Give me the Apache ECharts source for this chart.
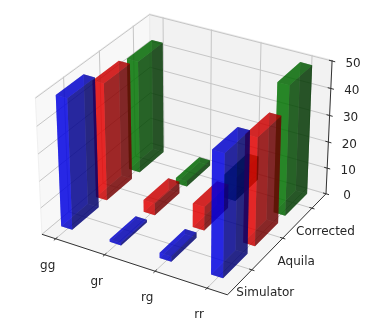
<!DOCTYPE html>
<html><head><meta charset="utf-8">
<style>html,body{margin:0;padding:0;background:#fff}#c{width:382px;height:336px}</style>
<script src="https://cdn.jsdelivr.net/npm/echarts@6/dist/echarts.min.js"></script>
</head><body><div id="c"></div>
<script>
const categories = ['gg','gr','rg','rr'];
const methods = ['Simulator','Aquila','Corrected'];
const zTicks = [0,10,20,30,40,50];
const simulator = [48.5,1,2,45];
const aquila = [44,4.5,9,40];
const corrected = [42.5,2,9,48.5];
const seriesColors = [[0,0,255],[255,0,0],[0,128,0]];

const W=382,H=336, S=1785, X0=186.6, Y0=147.5;
const xlim=[-0.285,3.385], ylim=[-0.75,2.5], zlim=[0,50.3];
const BOX=[1.19,1.19,0.875], DIST=10, ALPHA=0.6, BW=0.23, BD=0.76, BARSHIFT=-0.025, BARSHIFTY=-0.03;
const U=[0.866025,0.5,0], V=[-0.25,0.433013,0.866025], N=[0.433013,-0.75,0.5];
const dot=(a,b)=>a[0]*b[0]+a[1]*b[1]+a[2]*b[2];
const world=(x,y,z)=>[((x-xlim[0])/(xlim[1]-xlim[0])-0.5)*BOX[0],((y-ylim[0])/(ylim[1]-ylim[0])-0.5)*BOX[1],((z-zlim[0])/(zlim[1]-zlim[0])-0.5)*BOX[2]];
const proj=p=>{const w=world(p[0],p[1],p[2]),d=DIST-dot(w,N);return [dot(w,U)/d,dot(w,V)/d];};
const depth=p=>dot(world(p[0],p[1],p[2]),N);

function barFaces(xi,yi,h){
  const a=xi+BARSHIFT-BW/2,b=xi+BARSHIFT+BW/2,c=yi+BARSHIFTY-BD/2,e=yi+BARSHIFTY+BD/2;
  const F=[
    [[[a,c,0],[b,c,0],[b,e,0],[a,e,0]],[0,0,-1]],
    [[[a,c,h],[b,c,h],[b,e,h],[a,e,h]],[0,0,1]],
    [[[a,c,0],[b,c,0],[b,c,h],[a,c,h]],[0,-1,0]],
    [[[a,e,0],[b,e,0],[b,e,h],[a,e,h]],[0,1,0]],
    [[[a,c,0],[a,e,0],[a,e,h],[a,c,h]],[-1,0,0]],
    [[[b,c,0],[b,e,0],[b,e,h],[b,c,h]],[1,0,0]]];
  return F;
}
const LIGHT=[-0.6667,-0.6667,0.3333];
const shade=n=>0.3+0.7*((dot(n,LIGHT)+1)/2);
function facesFor(values,yi,rgb){
  const out=[];
  values.forEach((h,xi)=>barFaces(xi,yi,h).forEach(f=>{
    const s=shade(f[1]);
    const col=`rgba(${Math.round(rgb[0]*s)},${Math.round(rgb[1]*s)},${Math.round(rgb[2]*s)},${ALPHA})`;
    const cz=f[0].reduce((t,p)=>t+depth(p),0)/4;
    out.push({pts:f[0],col,cz});
  }));
  out.sort((p,q)=>p.cz-q.cz);
  return out;
}
function polyEl(api,pts,style){return {type:'polygon',shape:{points:pts.map(p=>api.coord(proj(p)))},style};}
function lineEl(api,pts,col,w){return {type:'polyline',shape:{points:pts.map(p=>api.coord(proj(p)))},style:{stroke:col,lineWidth:w,fill:null}};}
function barSeries(name,values,yi,rgb,z){
  const faces=facesFor(values,yi,rgb);
  return {type:'custom',name,coordinateSystem:'cartesian2d',clip:false,silent:true,z,
    data:faces.map((f,i)=>[i,i]),
    renderItem:(p,api)=>{const f=faces[p.dataIndex];return polyEl(api,f.pts,{fill:f.col});}};
}
const [x0,x1]=xlim,[y0,y1]=ylim,[z0,z1]=zlim;
function frame(api){
  const kids=[];
  kids.push(polyEl(api,[[x0,y0,z0],[x0,y1,z0],[x0,y1,z1],[x0,y0,z1]],{fill:'rgba(242,242,242,0.5)',stroke:'#f0f0f0',lineWidth:1}));
  kids.push(polyEl(api,[[x0,y1,z0],[x1,y1,z0],[x1,y1,z1],[x0,y1,z1]],{fill:'rgba(230,230,230,0.5)',stroke:'#ececec',lineWidth:1}));
  kids.push(polyEl(api,[[x0,y0,z0],[x1,y0,z0],[x1,y1,z0],[x0,y1,z0]],{fill:'rgba(236,236,236,0.5)',stroke:'#f0f0f0',lineWidth:1}));
  const GC='#c6c6c6';
  categories.forEach((c,i)=>kids.push(lineEl(api,[[i,y0,z0],[i,y1,z0],[i,y1,z1]],GC,1)));
  methods.forEach((c,j)=>kids.push(lineEl(api,[[x1,j,z0],[x0,j,z0],[x0,j,z1]],GC,1)));
  zTicks.forEach(t=>kids.push(lineEl(api,[[x0,y0,t],[x0,y1,t],[x1,y1,t]],GC,1)));
  return {type:'group',children:kids};
}
function axes(api){
  const kids=[],AC='#333';
  kids.push(lineEl(api,[[x0,y0,z0],[x1,y0,z0]],AC,1));
  kids.push(lineEl(api,[[x1,y0,z0],[x1,y1,z0]],AC,1));
  kids.push(lineEl(api,[[x1,y1,z0],[x1,y1,z1]],AC,1));
  const txt=(s,p,dx,dy)=>{const c=api.coord(proj(p));return {type:'text',style:{text:s,x:c[0]+dx,y:c[1]+dy,fill:'#262626',fontSize:12,fontFamily:'DejaVu Sans',align:'center',verticalAlign:'middle',textAlign:'center',textVerticalAlign:'middle'}};};
  categories.forEach((c,i)=>{kids.push(lineEl(api,[[i,y0-0.05,z0],[i,y0+0.05,z0]],AC,1));kids.push(txt(c,[i,y0,z0],-8,27));});
  methods.forEach((c,j)=>{kids.push(lineEl(api,[[x1-0.05,j,z0],[x1+0.05,j,z0]],AC,1));kids.push(txt(c,[x1,j,z0],13.5,23.5));});
  zTicks.forEach(t=>{kids.push(lineEl(api,[[x1-0.06,y1,t],[x1+0.06,y1,t]],AC,1));kids.push(txt(String(t),[x1,y1,t],21,2.5));});
  return {type:'group',children:kids};
}
const chart=echarts.init(document.getElementById('c'),null,{renderer:'canvas'});
chart.setOption({
  animation:false,backgroundColor:'#fff',
  grid:{left:0,right:0,top:0,bottom:0,containLabel:false},
  xAxis:{type:'value',show:false,min:(0-X0)/S,max:(W-X0)/S,scale:true},
  yAxis:{type:'value',show:false,min:(Y0-H)/S,max:Y0/S,scale:true},
  series:[
    {type:'custom',clip:false,silent:true,z:1,data:[[0,0]],renderItem:(p,api)=>frame(api)},
    {type:'custom',clip:false,silent:true,z:2,data:[[0,0]],renderItem:(p,api)=>axes(api)},
    barSeries(methods[2],corrected,2,seriesColors[2],3),
    barSeries(methods[1],aquila,1,seriesColors[1],4),
    barSeries(methods[0],simulator,0,seriesColors[0],5)
  ]
});
</script></body></html>
